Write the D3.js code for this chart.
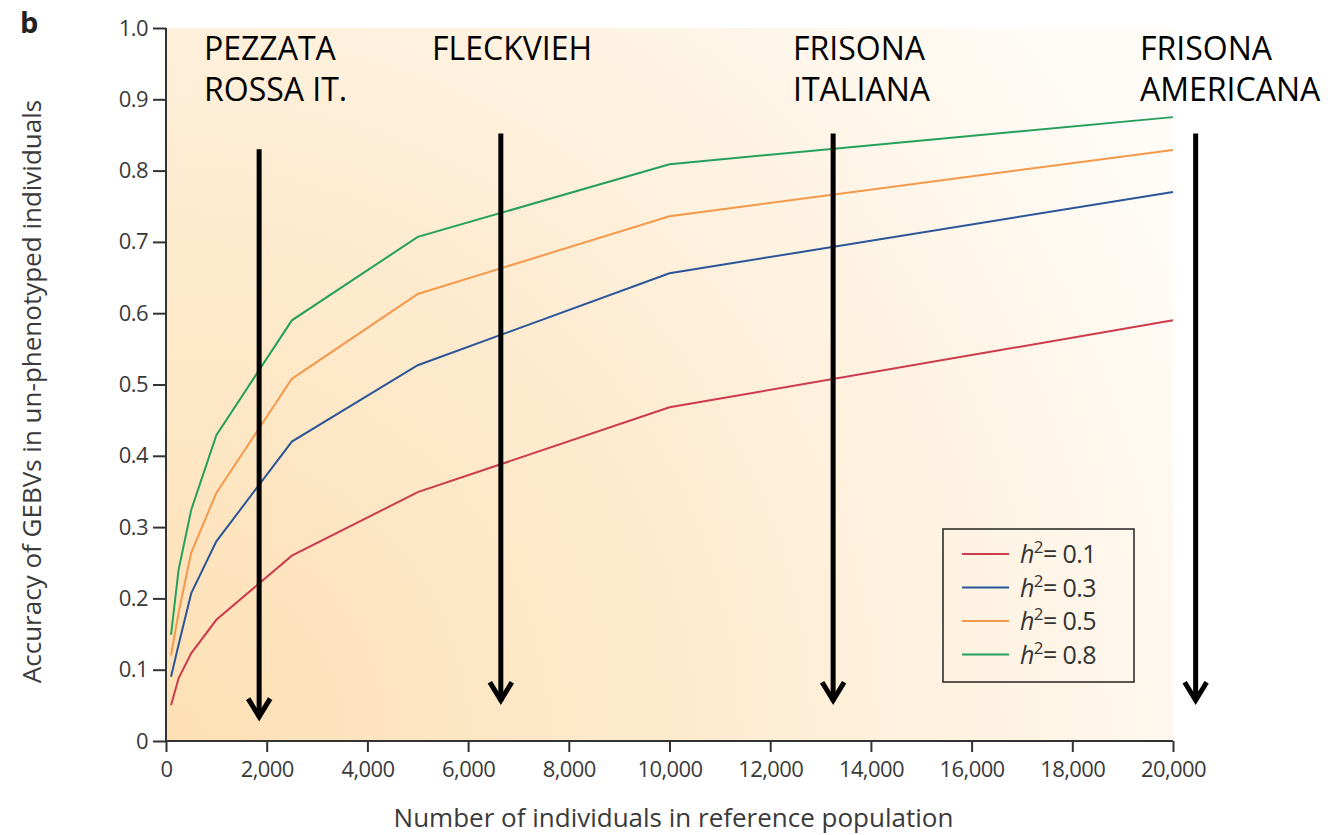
<!DOCTYPE html>
<html>
<head>
<meta charset="utf-8">
<script src="https://cdn.jsdelivr.net/npm/d3@7"></script>
<style>
  body { margin: 0; background: #fff; }
  svg { display: block; }
</style>
</head>
<body>
<svg id="chart" width="1332" height="835"></svg>
<script>
// data
var popSizes = [100, 250, 500, 1000, 2500, 5000, 10000, 20000];
var accH01 = [0.05, 0.088, 0.123, 0.17, 0.26, 0.349, 0.468, 0.59];
var accH03 = [0.09, 0.135, 0.207, 0.28, 0.42, 0.527, 0.656, 0.77];
var accH05 = [0.12, 0.18, 0.264, 0.348, 0.508, 0.627, 0.736, 0.829];
var accH08 = [0.149, 0.24, 0.324, 0.429, 0.59, 0.707, 0.809, 0.875];
var seriesNames = ["0.1", "0.3", "0.5", "0.8"];
var seriesColors = ["#cc3a4b", "#2a5598", "#f4984a", "#25a05c"];

var breedNames = [["PEZZATA", "ROSSA IT."], ["FLECKVIEH"], ["FRISONA", "ITALIANA"], ["FRISONA", "AMERICANA"]];
var breedSizes = [1850, 6650, 13250, 20450];   // where the arrows point
var arrowTop = [0.83, 0.852, 0.852, 0.852];
var arrowTip = [0.03, 0.053, 0.053, 0.053];

var xTicks = d3.range(0, 20001, 2000);
var yTicks = d3.range(0, 11).map(d => d / 10);

var svg = d3.select("#chart");
var margin = { left: 166, top: 28, right: 159, bottom: 94 };
var width = 1332 - margin.left - margin.right;
var height = 835 - margin.top - margin.bottom;
var axisFont = "'Open Sans', Lato, sans-serif";

var x = d3.scaleLinear().domain([0, 20000]).range([0, width]);
var y = d3.scaleLinear().domain([0, 1]).range([height, 0]);

var defs = svg.append("defs");
var grad = defs.append("radialGradient")
    .attr("id", "bg")
    .attr("gradientUnits", "userSpaceOnUse")
    .attr("cx", 0).attr("cy", height)
    .attr("r", 1150);
grad.append("stop").attr("offset", "0%").attr("stop-color", "#fde0b4");
grad.append("stop").attr("offset", "45%").attr("stop-color", "#feebcf");
grad.append("stop").attr("offset", "100%").attr("stop-color", "#fffcf8");

var g = svg.append("g").attr("transform", `translate(${margin.left},${margin.top})`);

g.append("rect")
    .attr("width", width)
    .attr("height", height)
    .attr("fill", "url(#bg)");

// axes
var xAxis = g.append("g")
    .attr("transform", `translate(0,${height})`)
    .call(d3.axisBottom(x).tickValues(xTicks).tickSize(11).tickPadding(9)
        .tickFormat(d => d === 0 ? "0" : d3.format(",")(d)));
var yAxis = g.append("g")
    .call(d3.axisLeft(y).tickValues(yTicks).tickSize(13).tickPadding(5)
        .tickFormat(d => d === 0 ? "0" : d3.format(".1f")(d)));

[xAxis, yAxis].forEach(function (a) {
    a.select(".domain").attr("stroke", "#333").attr("stroke-width", 2);
    a.selectAll(".tick line").attr("stroke", "#333").attr("stroke-width", 2);
    a.selectAll(".tick text")
        .attr("fill", "#3a3a3a")
        .style("font-family", axisFont)
        .style("font-size", "22px")
        .style("letter-spacing", "-0.6px");
});
xAxis.select(".domain").attr("d", `M0,0H${width}`);
yAxis.select(".domain").attr("d", `M0,0V${height}`);

svg.append("text")
    .attr("x", margin.left + width / 2 + 4)
    .attr("y", 827)
    .attr("text-anchor", "middle")
    .attr("fill", "#3a3a3a")
    .style("font-family", axisFont)
    .style("font-size", "26px")
    .text("Number of individuals in reference population");

svg.append("text")
    .attr("transform", `translate(41,${margin.top + height / 2 + 7}) rotate(-90)`)
    .attr("text-anchor", "middle")
    .attr("fill", "#3a3a3a")
    .style("font-family", axisFont)
    .style("font-size", "26px")
    .text("Accuracy of GEBVs in un-phenotyped individuals");

svg.append("text")
    .attr("x", 20).attr("y", 33)
    .attr("fill", "#222")
    .style("font-family", axisFont)
    .style("font-weight", "bold")
    .style("font-size", "29px")
    .text("b");

// curves
var allSeries = [accH01, accH03, accH05, accH08];
var line = d3.line().x((d, i) => x(popSizes[i])).y(d => y(d));

g.selectAll("path.curve")
    .data(allSeries)
    .join("path")
    .attr("class", "curve")
    .attr("d", line)
    .attr("fill", "none")
    .attr("stroke", (d, i) => seriesColors[i])
    .attr("stroke-width", 2);

// legend
var legend = g.append("g").attr("transform", `translate(${943 - margin.left},${529 - margin.top})`);
legend.append("rect")
    .attr("width", 191).attr("height", 153)
    .attr("fill", "none")
    .attr("stroke", "#222")
    .attr("stroke-width", 1.5);
var rows = legend.selectAll("g.row")
    .data(seriesNames)
    .join("g")
    .attr("class", "row")
    .attr("transform", (d, i) => `translate(0,${25 + i * 33.5})`);
rows.append("line")
    .attr("x1", 19).attr("x2", 66)
    .attr("stroke", (d, i) => seriesColors[i])
    .attr("stroke-width", 2);
var lt = rows.append("text")
    .attr("x", 77).attr("y", 9)
    .attr("fill", "#333")
    .style("font-family", axisFont)
    .style("font-size", "25px")
    .style("letter-spacing", "-0.6px");
lt.append("tspan").style("font-style", "italic").text("h");
lt.append("tspan").attr("dy", -10).style("font-size", "17px").text("2");
lt.append("tspan").attr("dy", 10).text(d => "= " + d);

// breed annotations
var ann = g.selectAll("g.breed")
    .data(breedNames)
    .join("g")
    .attr("class", "breed");

ann.append("line")
    .attr("x1", (d, i) => x(breedSizes[i]))
    .attr("x2", (d, i) => x(breedSizes[i]))
    .attr("y1", (d, i) => y(arrowTop[i]))
    .attr("y2", (d, i) => y(arrowTip[i]) - 2)
    .attr("stroke", "#000")
    .attr("stroke-width", 5);
ann.append("path")
    .attr("d", (d, i) => {
        var px = x(breedSizes[i]), py = y(arrowTip[i]);
        return `M${px - 11},${py - 21}L${px},${py - 3}L${px + 11},${py - 21}`;
    })
    .attr("fill", "none")
    .attr("stroke", "#000")
    .attr("stroke-width", 5);

var labelX = [204, 432, 793, 1140];
ann.append("text")
    .attr("x", (d, i) => labelX[i] - margin.left)
    .attr("y", 60 - margin.top)
    .attr("fill", "#000")
    .style("font-family", "'Open Sans', sans-serif")
    .style("font-size", "32px")
    .selectAll("tspan")
    .data(d => d)
    .join("tspan")
    .attr("x", function () { return d3.select(this.parentNode).attr("x"); })
    .attr("dy", (d, i) => i === 0 ? 0 : 41)
    .text(d => d);
</script>
</body>
</html>
